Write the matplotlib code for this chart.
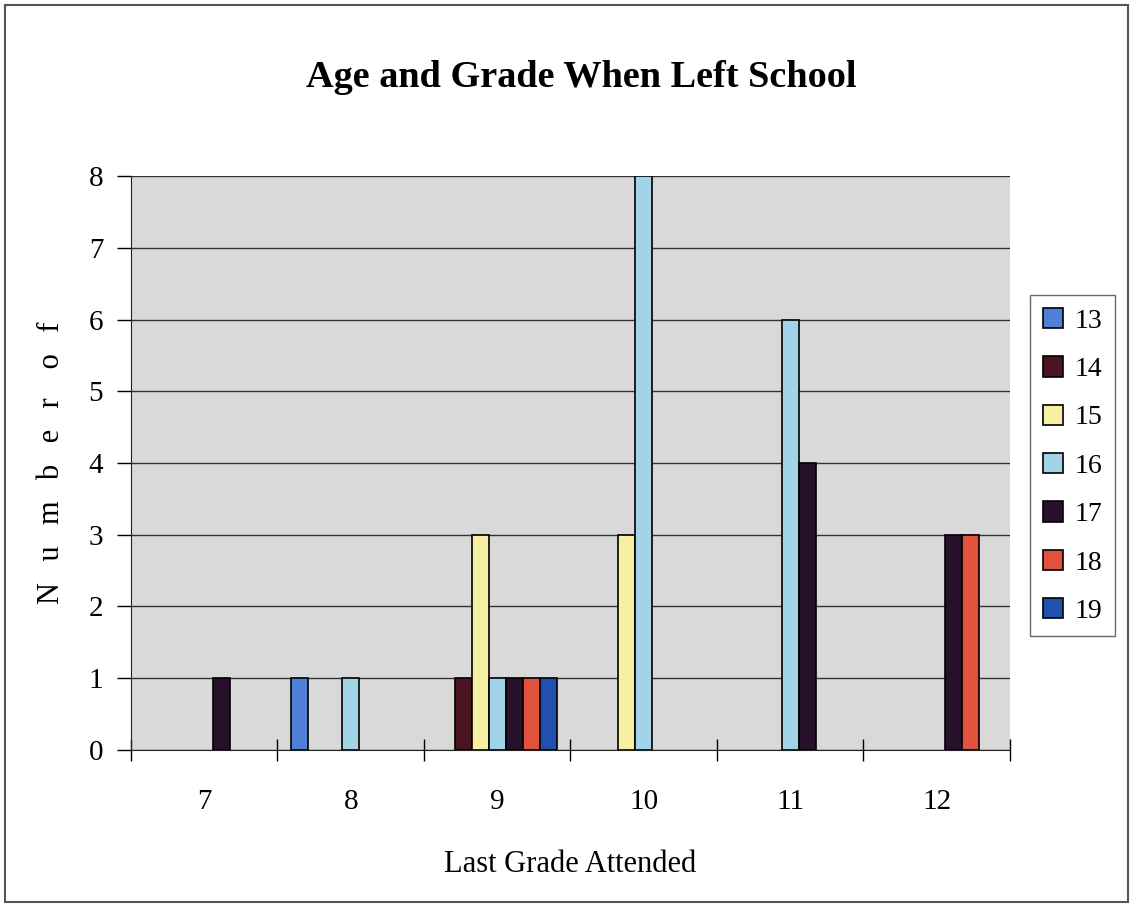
import numpy as np
import matplotlib.pyplot as plt
from matplotlib.patches import Rectangle

# ==== Données ====
grades = ['7', '8', '9', '10', '11', '12']
ages = ['13', '14', '15', '16', '17', '18', '19']
age13 = [0, 1, 0, 0, 0, 0]
age14 = [0, 0, 1, 0, 0, 0]
age15 = [0, 0, 3, 3, 0, 0]
age16 = [0, 1, 1, 8, 6, 0]
age17 = [1, 0, 1, 0, 4, 3]
age18 = [0, 0, 1, 0, 0, 3]
age19 = [0, 0, 1, 0, 0, 0]
series = [age13, age14, age15, age16, age17, age18, age19]
colors = ['#4f7fd6', '#4a1420', '#f6f0a2', '#a2d3e6', '#26102a', '#e2503e', '#2050b0']

plt.rcParams['font.family'] = ['Liberation Serif', 'DejaVu Serif']

fig = plt.figure(figsize=(11.31, 9.06), dpi=100)
ax = fig.add_axes([0.1158, 0.1722, 0.7772, 0.6335])

x = np.arange(len(grades))
w = 0.116
for i, (vals, col) in enumerate(zip(series, colors)):
    vals = np.array(vals)
    mask = vals > 0
    ax.bar(x[mask] + (i - 3) * w, vals[mask], width=w, color=col,
           edgecolor='black', linewidth=1.2, label=ages[i], zorder=3)

ax.set_facecolor('#d9d9d9')
ax.set_xlim(-0.5, 5.5)
ax.set_ylim(0, 8)
ax.set_yticks(range(0, 9))
ax.yaxis.grid(True, color='#333333', linewidth=1.0, zorder=1)
ax.set_axisbelow(True)

# graduations x aux limites des catégories, étiquettes au centre
ax.set_xticks(np.arange(-0.5, 6.0, 1.0))
ax.set_xticklabels([])
ax.set_xticks(x, minor=True)
ax.set_xticklabels(grades, minor=True)
ax.tick_params(axis='x', which='major', direction='inout', length=16, width=1)
ax.tick_params(axis='x', which='minor', length=0, pad=28, labelsize=21)
ax.tick_params(axis='y', direction='out', length=10, width=1, pad=10, labelsize=21)

for s in ['top', 'right']:
    ax.spines[s].set_visible(False)
ax.spines['left'].set_color('#222222')
ax.spines['bottom'].set_color('#222222')

ax.set_xlabel('Last Grade Attended', fontsize=22, labelpad=25)
sp = '  \u2009'
ax.set_ylabel(sp.join('Number') + sp + ' ' + sp.join('of'), fontsize=22, labelpad=16)

fig.text(0.5137, 0.914, 'Age and Grade When Left School', ha='center', va='center',
         fontsize=27.5, fontweight='bold')

leg = ax.legend(loc='center left', bbox_to_anchor=(1.007, 0.495), fontsize=20,
                frameon=True, fancybox=False, edgecolor='#444444',
                handlelength=0.75, handleheight=0.75, handletextpad=0.4,
                labelspacing=0.81, borderpad=0.45)
leg.get_frame().set_linewidth(1.0)

fig.patches.append(Rectangle((0.004, 0.004), 0.993, 0.99, transform=fig.transFigure,
                             fill=False, edgecolor='#555555', linewidth=1.5))

fig.savefig('out.png', dpi=100)
